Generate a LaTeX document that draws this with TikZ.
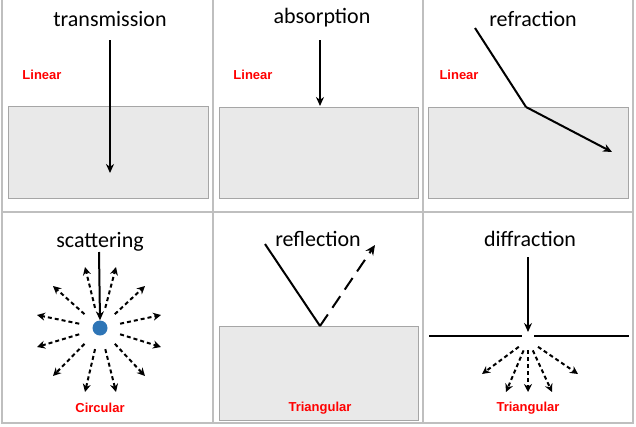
\documentclass[tikz,border=0pt]{standalone}
\usetikzlibrary{calc,arrows.meta}
\usepackage{fontspec}
\setmainfont{Liberation Sans}
\newfontfamily\titlefont{Carlito}
\begin{document}
\begin{tikzpicture}[x=1pt,y=-1pt,
  grid/.style={draw=gray!50,line width=1.2pt},
  medium/.style={fill=gray!17,draw=gray!70,line width=0.6pt},
  title/.style={font=\titlefont\fontsize{22}{24}\selectfont},
  kind/.style={text=red,font=\bfseries\fontsize{13}{14}\selectfont},
  ray/.style={line width=2pt,-{Stealth[length=9pt,width=8pt]}},
  dray/.style={line width=2pt,-{Stealth[length=8pt,width=8pt]},dash pattern=on 4pt off 3pt},
  line/.style={line width=2pt}]
\useasboundingbox (0,0) rectangle (636,426);
% grid
\draw[grid] (2,0) -- (2,423) -- (633,423) -- (633,0);
\draw[grid] (213,0) -- (213,423);
\draw[grid] (423,0) -- (423,423);
\draw[grid] (2,212) -- (633,212);
% media
\draw[medium] (8,106) rectangle (208,198);
\draw[medium] (219,107) rectangle (418,198);
\draw[medium] (428,107) rectangle (628,198);
\draw[medium] (219,326) rectangle (418,420);
% titles and labels
\node[title] (t1) at (110,19) {transmission};
\node[title] (t2) at (322,18) {absorption};
\node[title] (t3) at (533,19) {refraction};
\node[title] (t4) at (100,242) {scattering};
\node[title] (t5) at (318,239) {reflection};
\node[title] (t6) at (530,239) {diffraction};
\node[kind] (k1) at (42,75) {Linear};
\node[kind] (k2) at (253,75) {Linear};
\node[kind] (k3) at (459,75) {Linear};
\node[kind] (k4) at (100,408) {Circular};
\node[kind] (k5) at (320,408) {Triangular};
\node[kind] (k6) at (528,408) {Triangular};
% transmission
\coordinate (a1) at (110,40); \coordinate (b1) at (110,173);
\draw[ray] (a1) -- (b1);
% absorption
\coordinate (a2) at (320,40); \coordinate (b2) at (320,106);
\draw[ray] (a2) -- (b2);
% refraction
\coordinate (a3) at (475,28); \coordinate (m3) at (526,107); \coordinate (b3) at (612,152);
\draw[line] (a3) -- (m3);
\draw[ray] (m3) -- (b3);
% scattering
\coordinate (a4) at (99,252);
\node[circle,fill={rgb,255:red,46;green,117;blue,182},minimum size=15pt,inner sep=0pt] (dot) at (100,328) {};
\draw[ray] (a4) -- (dot.north);
\foreach \dx/\dy in {-15/-61,16/-61,-47/-42,45/-42,-63/-13,61/-13,-63/19,61/19,-47/48,45/48,-15/64,16/64}{
  \draw[dray] ($(dot.center)+0.33*(\dx,\dy)$) -- ($(dot.center)+(\dx,\dy)$);
}
% reflection
\coordinate (a5) at (265,244); \coordinate (m5) at (320,326); \coordinate (b5) at (375,245);
\draw[line] (a5) -- (m5);
\draw[line,-{Stealth[length=10pt,width=9pt]},dash pattern=on 14pt off 8pt] (m5) -- (b5);
% diffraction
\coordinate (a6) at (528,257); \coordinate (b6) at (528,332);
\draw[ray] (a6) -- (b6);
\coordinate (l1) at (429,336); \coordinate (l2) at (522,336);
\coordinate (r1) at (534,336); \coordinate (r2) at (629,336);
\draw[line] (l1) -- (l2); \draw[line] (r1) -- (r2);
\coordinate (s6) at (528,340);
\foreach \tx/\ty in {482/374,506/392,528/392,552/392,578/374}{
  \draw[dray] ($(s6)!0.2!(\tx,\ty)$) -- (\tx,\ty);
}
\end{tikzpicture}
\end{document}
